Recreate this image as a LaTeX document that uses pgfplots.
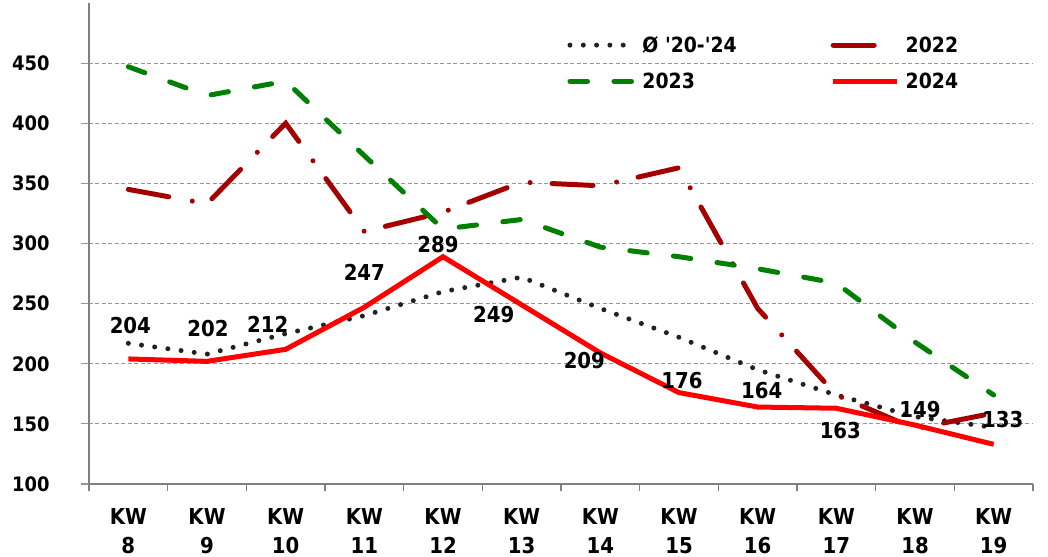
\documentclass[border=0pt]{standalone}
\usepackage{fontspec}
\setmainfont{DejaVu Sans Condensed}
\usepackage{pgfplots}
\pgfplotsset{compat=1.18}
\usepackage{pgfplotstable}

\definecolor{darkred22}{RGB}{165,0,0}
\definecolor{green23}{RGB}{0,128,0}
\definecolor{red24}{RGB}{255,0,0}
\definecolor{dotblack}{RGB}{34,34,34}
\definecolor{gridgray}{RGB}{150,150,150}
\definecolor{axisgray}{RGB}{128,128,128}

\pgfplotstableread{
x y
0 217
1 208
2 225
3 240
4 260
5 272
6 246
7 222
8 195
9 174
10 156
11 147
}\avgtab

\pgfplotstableread{
x y
0 345
1 333
2 400
3 310
4 326
5 351
6 348
7 363
8 246
9 174
10 146
11 159
}\tabA

\pgfplotstableread{
x y
0 447
1 423
2 435
3 373
4 312
5 320
6 297
7 289
8 279
9 267
10 218
11 174
}\tabB

\pgfplotstableread{
x y dx dy
0 204 2 33
1 202 1 33
2 212 -18 25
3 247 0 35
4 289 -5 12
5 249 -28 -10
6 209 -16 -8
7 176 3 12
8 164 4 17
9 163 4 -22
10 149 5 16
11 133 9 25
}\tabC

\begin{document}
\begin{tikzpicture}
\useasboundingbox (-89bp,-73bp) rectangle (959bp,484bp);
\begin{axis}[
  scale only axis, width=944bp, height=481bp,
  xmin=-0.5, xmax=11.5, ymin=100, ymax=500,
  axis x line*=bottom, axis y line*=left,
  axis line style={-, draw=axisgray, line width=1.5bp},
  xtick={0,...,11},
  xticklabels={{KW\\8},{KW\\9},{KW\\10},{KW\\11},{KW\\12},{KW\\13},{KW\\14},{KW\\15},{KW\\16},{KW\\17},{KW\\18},{KW\\19}},
  xticklabel style={align=center, yshift=-13bp, font=\fontsize{22}{29}\selectfont\bfseries},
  every major x tick/.append style={draw=none},
  minor xtick={-0.5,0.5,...,11.5},
  every minor x tick/.append style={draw=axisgray, line width=1.5bp},
  ytick={100,150,...,450},
  every major y tick/.append style={draw=gridgray, line width=1.2bp},
  tick align=outside,
  major tick length=8bp, minor tick length=7bp,
  ymajorgrids, grid style={draw=gridgray, line width=1.2bp, dash pattern=on 4bp off 2.5bp},
  yticklabel style={xshift=-28bp, font=\fontsize{20}{24}\selectfont\bfseries},
  /pgf/number format/assume math mode=true,
  legend columns=2,
  legend cell align=left,
  legend style={at={(0.5035,0.875)}, anchor=west, draw=none, fill=none,
    font=\fontsize{21}{25}\selectfont\bfseries,
    row sep=15bp,
    /tikz/column 1/.style={column sep=4bp},
    /tikz/column 2/.style={column sep=92bp},
    /tikz/column 3/.style={column sep=4bp}},
  legend image code/.code={\draw[#1] (0bp,0bp) -- (64bp,0bp);},
]
\addplot[draw=dotblack, line width=5bp, line cap=round, dash pattern=on 0bp off 13.3bp] table[x=x,y=y] {\avgtab};
\addlegendentry{Ø \textquotesingle 20-\textquotesingle 24}
\addplot[draw=darkred22, line width=5bp, line cap=round, dash pattern=on 41bp off 24bp on 0bp off 22bp] table[x=x,y=y] {\tabA};
\addlegendentry{2022}
\addplot[draw=green23, line width=5bp, line cap=round, dash pattern=on 17.5bp off 26.5bp] table[x=x,y=y] {\tabB};
\addlegendentry{2023}
\addplot[draw=red24, line width=5bp,
  nodes near coords,
  visualization depends on={\thisrow{dx} \as \dx},
  visualization depends on={\thisrow{dy} \as \dy},
  every node near coord/.append style={anchor=center, xshift=\dx bp, yshift=\dy bp, text=black, font=\fontsize{22}{26}\selectfont\bfseries},
  ] table[x=x,y=y] {\tabC};
\addlegendentry{2024}
\end{axis}
\end{tikzpicture}
\end{document}
